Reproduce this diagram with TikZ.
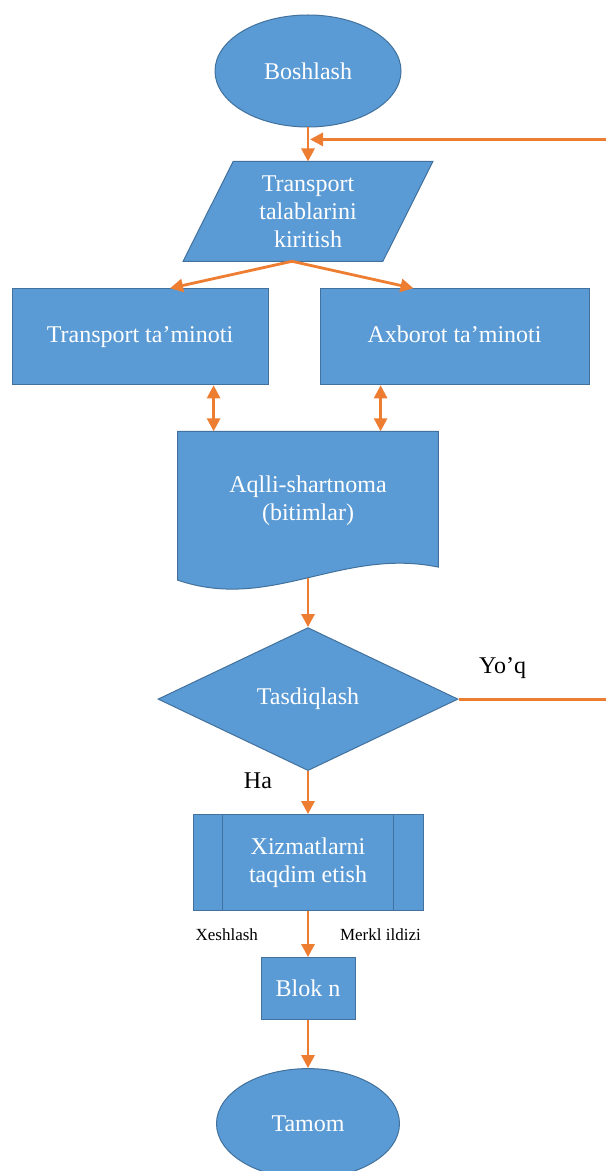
\documentclass[tikz,border=0pt]{standalone}
\usepackage{fontspec}
\setmainfont{Liberation Serif}
\usetikzlibrary{arrows.meta, positioning, shapes.geometric, calc, backgrounds}

\definecolor{flowblue}{HTML}{5B9BD5}
\definecolor{flowedge}{HTML}{41719C}
\definecolor{floworange}{HTML}{ED7D31}

\begin{document}
\begin{tikzpicture}[
    >={Triangle[length=6.5pt, width=6.5pt]},
    block/.style={draw=flowedge, line width=0.5pt, fill=flowblue,
                  text=white, align=center,
                  font=\fontsize{12}{14}\selectfont},
    textonly/.style={text=white, align=center,
                     font=\fontsize{12}{14}\selectfont},
    link/.style={draw=floworange, line width=1.4pt},
    note/.style={text=black, font=\fontsize{12}{14}\selectfont},
    smallnote/.style={text=black, font=\fontsize{8.5}{10}\selectfont}
  ]
  \useasboundingbox (0,0) rectangle (302.5pt,-585.5pt);

  \node[block, ellipse, minimum width=93pt, minimum height=56pt]
    (start) at (154pt,-35.5pt) {Boshlash};
  \node[textonly, minimum width=124.5pt, minimum height=49.5pt,
        below=17pt of start] (input) {Transport\\talablarini\\kiritish};
  \node[block, minimum width=128pt, minimum height=48pt,
        below=13.5pt of input, xshift=-84pt] (transport)
    {Transport ta’minoti};
  \node[block, minimum width=134.5pt, minimum height=48pt,
        below=13.5pt of input, xshift=73.25pt, text depth=2.5pt] (info)
    {Axborot ta’minoti};
  \node[textonly, minimum width=130pt, minimum height=69pt,
        below=85pt of input] (contract) {Aqlli-shartnoma\\(bitimlar)};
  \node[block, diamond, aspect=2.1, inner sep=0pt, minimum width=150pt,
        minimum height=71.5pt, below=28.5pt of contract] (check)
    {Tasdiqlash};
  \node[block, minimum width=115pt, minimum height=48pt,
        below=21.5pt of check] (service) {Xizmatlarni\\taqdim etish};
  \node[block, minimum width=47pt, minimum height=31pt,
        below=23pt of service] (blockn) {Blok n};
  \node[block, ellipse, minimum width=91.5pt, minimum height=55pt,
        below=24pt of blockn] (finish) {Tamom};

  % shapes behind the text-only nodes
  \begin{scope}[on background layer]
    \path[block] ([xshift=25pt]input.north west) -- (input.north east)
      -- ([xshift=-25pt]input.south east) -- (input.south west) -- cycle;
    \path[block] (contract.north west) -- (contract.north east)
      -- ([yshift=1.5pt]contract.south east)
      .. controls +(-48.5pt,10pt) and ($(contract.south west)+(46.5pt,-21pt)$)
      .. ([yshift=-5pt]contract.south west) -- cycle;
  \end{scope}
  \draw[flowedge, line width=0.5pt]
    ([xshift=15pt]service.north west) -- ([xshift=15pt]service.south west)
    ([xshift=-15pt]service.north east) -- ([xshift=-15pt]service.south east);

  \coordinate (loopin) at ($(start.south)!0.35!(input.north)$);
  \coordinate (tleft) at ([xshift=18pt]contract.north west);
  \coordinate (tright) at ([xshift=101.5pt]contract.north west);

  \draw[link,->] (start) -- (input);
  \draw[link,->] ([xshift=-8pt]input.south) -- ([xshift=15pt]transport.north);
  \draw[link,->] ([xshift=-8pt]input.south) -- ([xshift=-20.5pt]info.north);
  \draw[link,<->] (tleft |- transport.south) -- (tleft);
  \draw[link,<->] (tright |- info.south) -- (tright);
  \draw[link,->] ([yshift=-4pt]contract.south) -- (check);
  \draw[link,->] (check) -- node[note, left=14pt, pos=0.23] {Ha} (service);
  \draw[link,->] (service)
    -- node[smallnote, left=21pt, pos=0.52] {Xeshlash}
       node[smallnote, right=12pt, pos=0.52] {Merkl ildizi} (blockn);
  \draw[link,->] (blockn) -- (finish);
  \draw[link,->] (check.east) -- node[note, above=6pt, pos=0.26] {Yo’q}
    ++(85pt,0) |- ([xshift=1pt]loopin);
\end{tikzpicture}
\end{document}
